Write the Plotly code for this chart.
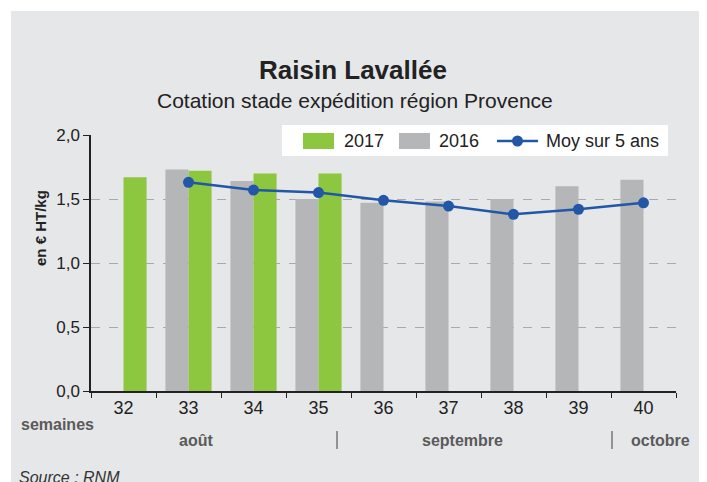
import plotly.graph_objects as go

weeks = ["32", "33", "34", "35", "36", "37", "38", "39", "40"]
v2017 = [1.67, 1.72, 1.70, 1.70, None, None, None, None, None]
v2016 = [None, 1.73, 1.64, 1.50, 1.47, 1.48, 1.50, 1.60, 1.65]
moy5 = [None, 1.63, 1.57, 1.55, 1.49, 1.445, 1.38, 1.42, 1.47]
yticks = [0, 0.5, 1.0, 1.5, 2.0]
ytick_labels = ["0,0", "0,5", "1,0", "1,5", "2,0"]

W, H = 707, 482
OFF = 8  # page body margin
# plot area in screen (reference) pixels
SL, SR, ST, SB = 91, 676, 135, 391
L, R, T, B = SL - OFF, SR - OFF, ST - OFF, SB - OFF
PW, PH = R - L, B - T


def px(x):  # screen x -> paper
    return (x - SL) / PW


def py(y):  # screen y -> paper
    return (SB - y) / PH


FONT = "Liberation Sans, Arial, sans-serif"
BG = "#e6e7e9"
GREEN = "#8dc63f"
GRAY = "#b5b6b8"
BLUE = "#2157a6"

fig = go.Figure()
fig.add_trace(go.Bar(x=weeks, y=v2016, name="2016", marker_color=GRAY,
                     marker_line_width=0))
fig.add_trace(go.Bar(x=weeks, y=v2017, name="2017", marker_color=GREEN,
                     marker_line_width=0))
fig.add_trace(go.Scatter(x=weeks, y=moy5, name="Moy sur 5 ans", mode="lines+markers",
                         line=dict(color=BLUE, width=2.5),
                         marker=dict(color=BLUE, size=11)))

GREY_TXT = "#5a5a5a"
annotations = [
    dict(text="<b>Raisin Lavallée</b>", x=px(353), y=py(70), font=dict(size=26, color="#222")),
    dict(text="Cotation stade expédition région Provence", x=px(355), y=py(100),
         font=dict(size=21, color="#222")),
    dict(text="<b>en € HT/kg</b>", x=px(40), y=py(228), textangle=-90,
         font=dict(size=15, color="#222")),
    dict(text="<b>semaines</b>", x=px(57), y=py(424), font=dict(size=16, color=GREY_TXT)),
    dict(text="<b>août</b>", x=px(196), y=py(440), font=dict(size=16, color=GREY_TXT)),
    dict(text="<b>septembre</b>", x=px(462), y=py(440), font=dict(size=16, color=GREY_TXT)),
    dict(text="<b>octobre</b>", x=px(660), y=py(440), font=dict(size=16, color=GREY_TXT)),
    dict(text="<i>Source : RNM</i>", x=px(17), y=py(477), xanchor="left",
         font=dict(size=16, color="#333")),
    # legend texts
    dict(text="2017", x=px(342), y=py(141), xanchor="left", font=dict(size=18, color="#222")),
    dict(text="2016", x=px(437), y=py(141), xanchor="left", font=dict(size=18, color="#222")),
    dict(text="Moy sur 5 ans", x=px(544), y=py(141), xanchor="left",
         font=dict(size=18, color="#222")),
]
for a in annotations:
    a.setdefault("xanchor", "center")
    a.update(xref="paper", yref="paper", showarrow=False, yanchor="middle",
             font=dict(family=FONT, **a["font"]))


def rect(x0, x1, y0, y1, color, layer="above"):
    return dict(type="rect", xref="paper", yref="paper", x0=px(x0), x1=px(x1),
                y0=py(y1), y1=py(y0), fillcolor=color, line_width=0, layer=layer)


def line(x0, x1, y0, y1, color, width):
    return dict(type="line", xref="paper", yref="paper", x0=px(x0), x1=px(x1),
                y0=py(y0), y1=py(y1), line=dict(color=color, width=width))


shapes = [
    # white margin outside the grey panel
    rect(0, 11, 0, 500, "white"),
    rect(0, 720, 0, 11, "white"),
    # month separators
    line(337, 337, 431, 449, "#777", 1.5),
    line(612, 612, 431, 449, "#777", 1.5),
    # legend box and keys
    rect(282, 668, 125, 156, "white"),
    rect(303, 334, 133, 149, GREEN),
    rect(399, 430, 133, 149, GRAY),
    line(497, 538, 141, 141, BLUE, 2.5),
    dict(type="circle", xref="paper", yref="paper", x0=px(512), x1=px(523),
         y0=py(146.5), y1=py(135.5), fillcolor=BLUE, line_width=0),
]

fig.update_layout(
    width=W, height=H,
    margin=dict(l=L, r=W - R, t=T, b=H - B, pad=0),
    paper_bgcolor=BG, plot_bgcolor=BG,
    barmode="group", bargap=0.29, bargroupgap=0,
    font=dict(family=FONT, color="#222"),
    showlegend=False,
    annotations=annotations,
    shapes=shapes,
    xaxis=dict(type="category", range=[-0.5, 8.5], tickson="boundaries", ticks="outside",
               ticklen=5, tickcolor="#222", showline=True, linecolor="#222", linewidth=1.5,
               showgrid=False, tickfont=dict(size=18, color="#222")),
    yaxis=dict(range=[0, 2.0], tickvals=yticks, ticktext=ytick_labels, ticks="outside",
               ticklen=6, tickcolor="#222", showline=True, linecolor="#222", linewidth=1.5,
               showgrid=True, gridcolor="#a9aaac", griddash="dash", gridwidth=1,
               zeroline=False, tickfont=dict(size=17, color="#222")),
)

fig.write_html("out.html")
